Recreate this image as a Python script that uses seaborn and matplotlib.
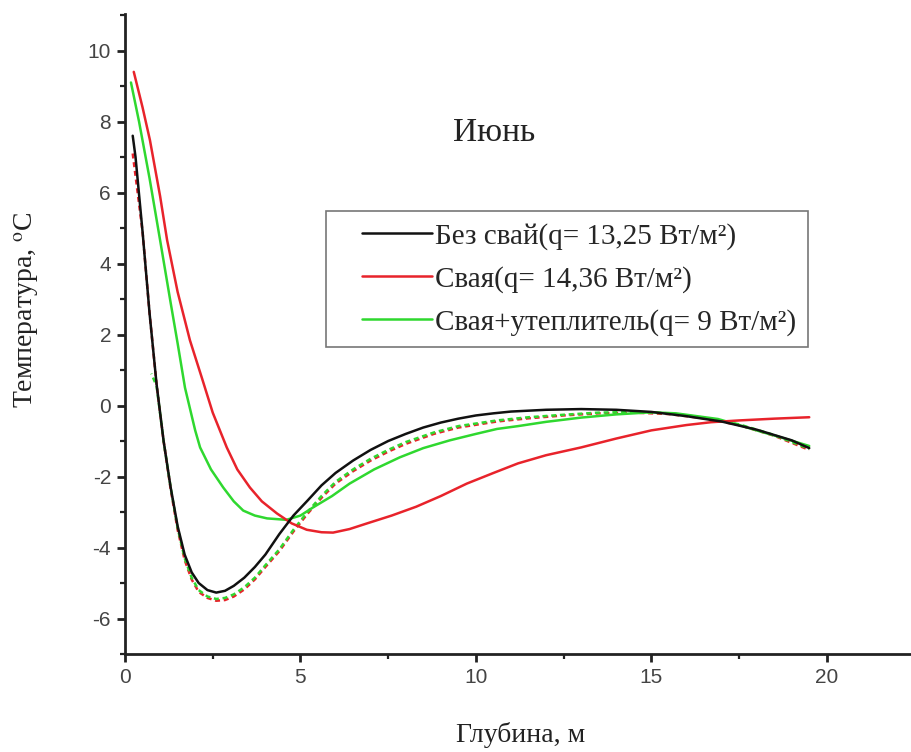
import numpy as np
import pandas as pd
import matplotlib
matplotlib.use("Agg")
import matplotlib.pyplot as plt
from matplotlib.ticker import MultipleLocator
from matplotlib.legend_handler import HandlerLine2D
import seaborn as sns

# Depth profiles of ground temperature in June
depth_bez = [0.22, 0.3, 0.5, 0.7, 0.9, 1.1, 1.3, 1.5, 1.7, 1.9, 2.1, 2.35, 2.6, 2.85,
             3.1, 3.4, 3.7, 4.0, 4.4, 4.8, 5.2, 5.6, 6.0, 6.5, 7.0, 7.5, 8.0, 8.5,
             9.0, 9.5, 10.0, 10.5, 11.0, 12.0, 13.0, 14.0, 15.0, 16.0, 17.0, 18.0,
             19.0, 19.5]
temp_bez = [7.6, 7.0, 4.9, 2.6, 0.6, -1.0, -2.3, -3.4, -4.2, -4.7, -5.0, -5.2, -5.27,
            -5.22, -5.08, -4.85, -4.55, -4.2, -3.62, -3.1, -2.68, -2.25, -1.9, -1.55,
            -1.25, -1.0, -0.8, -0.62, -0.48, -0.37, -0.28, -0.22, -0.17, -0.12, -0.1,
            -0.12, -0.18, -0.3, -0.45, -0.68, -0.98, -1.2]

depth_svaya = [0.25, 0.5, 0.71, 1.0, 1.2, 1.5, 1.85, 2.2, 2.5, 2.9, 3.2, 3.56, 3.9,
               4.33, 4.75, 5.18, 5.6, 5.93, 6.4, 6.9, 7.6, 8.3, 9.0, 9.74, 10.5, 11.2,
               12.0, 13.0, 14.0, 15.0, 16.0, 16.7, 17.5, 18.5, 19.5]
temp_svaya = [9.4, 8.4, 7.48, 5.9, 4.66, 3.2, 1.84, 0.75, -0.2, -1.18, -1.8, -2.31,
              -2.7, -3.04, -3.32, -3.5, -3.57, -3.58, -3.48, -3.32, -3.1, -2.85, -2.55,
              -2.2, -1.9, -1.63, -1.4, -1.18, -0.93, -0.7, -0.55, -0.47, -0.42, -0.37,
              -0.33]

depth_uteplitel = [0.17, 0.4, 0.7, 1.0, 1.3, 1.5, 1.71, 2.0, 2.14, 2.45, 2.8, 3.1,
                   3.37, 3.7, 4.05, 4.6, 5.0, 5.36, 5.9, 6.4, 7.1, 7.83, 8.5, 9.26,
                   10.0, 10.6, 11.2, 12.0, 13.0, 14.0, 15.0, 15.7, 16.3, 16.9, 17.5,
                   18.1, 18.7, 19.5]
temp_uteplitel = [9.1, 8.0, 6.4, 4.66, 2.9, 1.75, 0.5, -0.7, -1.18, -1.8, -2.31, -2.7,
                  -2.96, -3.1, -3.18, -3.22, -3.1, -2.87, -2.55, -2.2, -1.8, -1.46,
                  -1.2, -0.98, -0.8, -0.66, -0.58, -0.46, -0.34, -0.25, -0.19, -0.22,
                  -0.3, -0.38, -0.55, -0.73, -0.9, -1.14]

# Auxiliary (dashed) profiles
depth_aux_red = [0.22, 0.5, 0.7, 0.9, 1.1, 1.3, 1.5, 1.7, 1.9, 2.1, 2.35, 2.6, 2.85,
                 3.1, 3.4, 3.7, 4.0, 4.4, 4.8, 5.2, 5.6, 6.0, 6.5, 7.0, 7.5, 8.0, 8.8,
                 9.5, 10.6, 11.5, 12.5, 13.5, 14.5, 15.5, 16.5, 17.5, 18.5, 19.5]
temp_aux_red = [7.1, 4.9, 2.6, 0.6, -1.0, -2.35, -3.5, -4.35, -4.9, -5.25, -5.42, -5.5,
                -5.48, -5.38, -5.18, -4.9, -4.55, -4.1, -3.55, -3.05, -2.6, -2.2, -1.85,
                -1.55, -1.3, -1.08, -0.8, -0.62, -0.45, -0.36, -0.28, -0.22, -0.2, -0.24,
                -0.36, -0.55, -0.85, -1.25]

depth_aux_green = [0.75, 0.9, 1.1, 1.3, 1.5, 1.7, 1.9, 2.1, 2.35, 2.6, 2.85, 3.1, 3.4,
                   3.7, 4.0, 4.4, 4.8, 5.2, 5.6, 6.0, 6.5, 7.0, 7.5, 8.0, 8.8, 9.5,
                   10.6, 11.5, 12.5, 13.5, 14.5, 15.5, 16.5, 17.5, 18.5, 19.5]
temp_aux_green = [0.9, 0.55, -1.0, -2.3, -3.45, -4.3, -4.85, -5.2, -5.38, -5.45, -5.42,
                  -5.32, -5.12, -4.85, -4.5, -4.05, -3.5, -3.0, -2.55, -2.15, -1.8, -1.5,
                  -1.25, -1.03, -0.76, -0.58, -0.42, -0.33, -0.26, -0.2, -0.18, -0.22,
                  -0.34, -0.53, -0.83, -1.22]

labels = ["Без свай(q= 13,25 Вт/м²)",
          "Свая(q= 14,36 Вт/м²)",
          "Свая+утеплитель(q= 9 Вт/м²)"]
title_text = "Июнь"
xlabel_text = "Глубина, м"
ylabel_text = "Температура, $^\\mathrm{o}$C"

BLACK = "#111111"
RED = "#e8232b"
GREEN = "#2fd82f"


class InsetLineHandler(HandlerLine2D):
    """Legend line drawn only over the right part of the handle box."""

    def __init__(self, start_frac=0.2, **kw):
        super().__init__(**kw)
        self.start_frac = start_frac

    def create_artists(self, legend, orig_handle, xdescent, ydescent, width, height,
                       fontsize, trans):
        artists = super().create_artists(legend, orig_handle, xdescent, ydescent,
                                         width, height, fontsize, trans)
        for a in artists:
            xd = a.get_xdata()
            if len(xd) >= 2:
                x0 = -xdescent + width * self.start_frac
                a.set_xdata(np.linspace(x0, -xdescent + width, len(xd)))
        return artists


sns.set_style("ticks")
plt.rcParams["font.family"] = ["Liberation Serif", "DejaVu Serif"]
plt.rcParams["mathtext.fontset"] = "stix"
plt.rcParams["axes.unicode_minus"] = False

fig = plt.figure(figsize=(9.11, 7.52), dpi=100)
ax = fig.add_axes([125 / 911, 1 - 654 / 752, 1 - 125 / 911, (654 - 14) / 752])

lw = 1.8
sns.lineplot(x=depth_aux_red, y=temp_aux_red, ax=ax, color=RED, lw=lw,
             linestyle=(0, (2.0, 1.5)), sort=False, estimator=None)
sns.lineplot(x=depth_aux_green, y=temp_aux_green, ax=ax, color=GREEN, lw=lw,
             linestyle=(1.75, (2.0, 1.5)), sort=False, estimator=None)
sns.lineplot(x=depth_uteplitel, y=temp_uteplitel, ax=ax, color=GREEN, lw=lw,
             sort=False, estimator=None)
sns.lineplot(x=depth_svaya, y=temp_svaya, ax=ax, color=RED, lw=lw,
             sort=False, estimator=None)
sns.lineplot(x=depth_bez, y=temp_bez, ax=ax, color=BLACK, lw=lw,
             sort=False, estimator=None)

ax.set_xlim(0, 22.4)
ax.set_ylim(-7, 11.03)
ax.xaxis.set_major_locator(MultipleLocator(5))
ax.xaxis.set_minor_locator(MultipleLocator(2.5))
ax.yaxis.set_major_locator(MultipleLocator(2))
ax.yaxis.set_minor_locator(MultipleLocator(1))

sns.despine(ax=ax, top=True, right=True)
for side in ("left", "bottom"):
    ax.spines[side].set_linewidth(2.0)
    ax.spines[side].set_color("#222222")

ax.tick_params(which="major", direction="out", length=6, width=2.0, color="#222222",
               labelsize=15, labelcolor="#444444", pad=4)
ax.tick_params(which="minor", direction="out", length=3.5, width=1.6, color="#222222")
for lab in ax.get_xticklabels() + ax.get_yticklabels():
    lab.set_family(["Liberation Sans", "DejaVu Sans"])

ax.set_xlabel(xlabel_text, fontsize=20, color="#222222")
ax.set_ylabel(ylabel_text, fontsize=20, color="#222222")
ax.xaxis.set_label_coords((521 - 125) / 786, (654 - 735) / 640)
ax.yaxis.set_label_coords((27 - 125) / 786, (654 - 310) / 640)
ax.xaxis.label.set_verticalalignment("center")
ax.yaxis.label.set_verticalalignment("center")

fig.text(494 / 911, 1 - 133 / 752, title_text, fontsize=24, ha="center", va="center",
         color="#222222")

handles = ax.get_lines()
leg = ax.legend([handles[4], handles[3], handles[2]], labels,
                loc="upper left", bbox_to_anchor=(326 / 911, 1 - 211 / 752),
                bbox_transform=fig.transFigure, fontsize=21, frameon=True,
                fancybox=False, edgecolor="#555555", handlelength=3.25,
                handletextpad=0.1, labelspacing=0.55, borderpad=0.4,
                borderaxespad=0,
                handler_map={h: InsetLineHandler(0.26) for h in handles[2:5]})
leg.get_frame().set_linewidth(1.2)

fig.savefig("out.png", dpi=100, facecolor="white")
